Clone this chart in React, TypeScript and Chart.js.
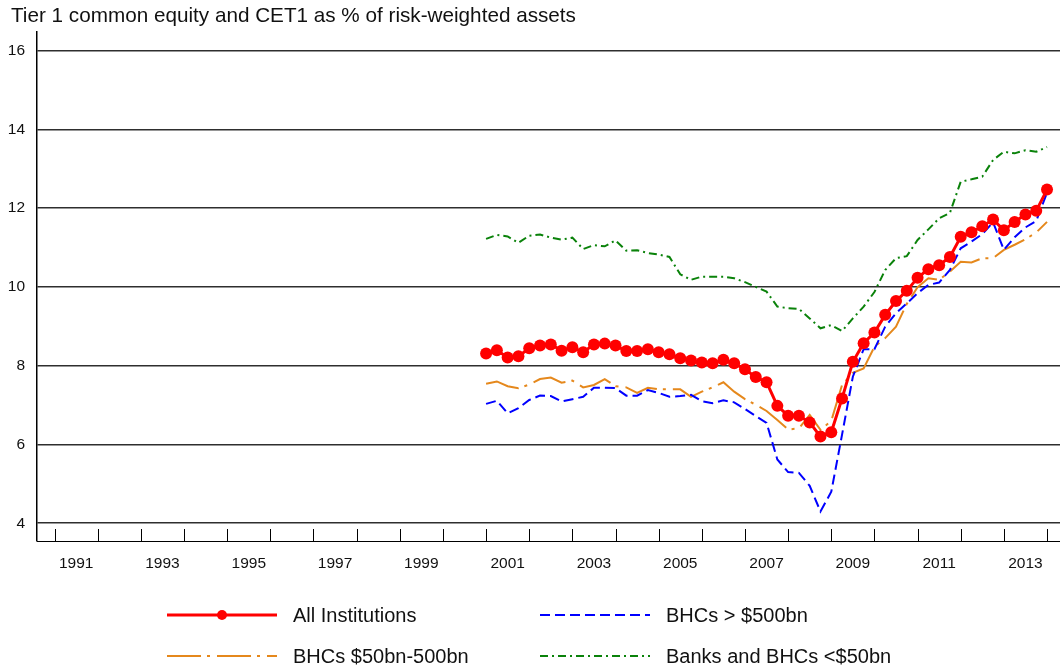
import React, { useEffect, useRef } from "react";
import { Chart, registerables } from "chart.js";

Chart.register(...registerables);

const TITLE = "Tier 1 common equity and CET1 as % of risk-weighted assets";
const FONT = '"Liberation Sans", Arial, Helvetica, sans-serif';

// Quarterly observations, 2001 Q1 .. 2014 Q1
const quarters: string[] = [];
for (let y = 2001; y <= 2014; y++) {
  for (let q = 1; q <= 4; q++) {
    if (y === 2014 && q > 1) break;
    quarters.push(`${y} Q${q}`);
  }
}
const quarterToYear = (s: string) => {
  const [y, q] = s.split(" Q");
  return Number(y) + (Number(q) - 1) / 4;
};

const seriesNames = [
  "All Institutions",
  "BHCs > $500bn",
  "BHCs $50bn-500bn",
  "Banks and BHCs <$50bn",
];

const allInstitutions = [
  8.31, 8.39, 8.21, 8.24, 8.44, 8.51, 8.54, 8.38, 8.47, 8.34,
  8.54, 8.56, 8.51, 8.37, 8.37, 8.42, 8.34, 8.29, 8.19, 8.13,
  8.08, 8.06, 8.15, 8.06, 7.91, 7.71, 7.58, 6.98, 6.73, 6.73,
  6.56, 6.2, 6.31, 7.17, 8.1, 8.57, 8.84, 9.29, 9.64, 9.9,
  10.23, 10.45, 10.55, 10.76, 11.27, 11.39, 11.54, 11.71, 11.44, 11.65,
  11.84, 11.93, 12.47,
];

const bhcsOver500 = [
  7.03, 7.11, 6.79, 6.92, 7.13, 7.24, 7.23, 7.09, 7.15, 7.21,
  7.44, 7.44, 7.43, 7.24, 7.24, 7.38, 7.31, 7.21, 7.23, 7.26,
  7.1, 7.05, 7.12, 7.07, 6.9, 6.72, 6.55, 5.62, 5.3, 5.28,
  4.95, 4.3, 4.8, 6.25, 7.72, 8.42, 8.42, 8.99, 9.33, 9.58,
  9.84, 10.05, 10.11, 10.43, 10.98, 11.15, 11.34, 11.64, 10.94, 11.26,
  11.51, 11.67, 12.39,
];

const bhcs50to500 = [
  7.54, 7.6, 7.48, 7.43, 7.52, 7.66, 7.7, 7.57, 7.62, 7.45,
  7.51, 7.66, 7.48, 7.45, 7.31, 7.44, 7.4, 7.4, 7.4, 7.21,
  7.34, 7.45, 7.58, 7.34, 7.15, 7.01, 6.85, 6.62, 6.38, 6.41,
  6.75, 6.37, 6.6, 7.51, 7.82, 7.93, 8.48, 8.7, 8.99, 9.57,
  9.99, 10.22, 10.18, 10.39, 10.64, 10.62, 10.73, 10.73, 10.94, 11.07,
  11.21, 11.38, 11.65,
];

const banksUnder50 = [
  11.22, 11.32, 11.28, 11.12, 11.3, 11.33, 11.25, 11.2, 11.25, 10.96,
  11.06, 11.03, 11.18, 10.92, 10.93, 10.86, 10.82, 10.76, 10.32, 10.18,
  10.26, 10.26, 10.26, 10.22, 10.12, 10.0, 9.88, 9.5, 9.46, 9.44,
  9.2, 8.95, 9.03, 8.88, 9.2, 9.5, 9.87, 10.43, 10.73, 10.78,
  11.19, 11.46, 11.74, 11.88, 12.67, 12.73, 12.8, 13.22, 13.43, 13.39,
  13.47, 13.43, 13.55,
];

const labelledYears = [1991, 1993, 1995, 1997, 1999, 2001, 2003, 2005, 2007, 2009, 2011, 2013];
const yearTickMarks = [
  1991, 1992, 1993, 1994, 1995, 1996, 1997, 1998, 1999, 2000, 2001, 2002,
  2003, 2004, 2005, 2006, 2007, 2008, 2009, 2010, 2011, 2012, 2013, 2014,
];
const yTicks = [4, 6, 8, 10, 12, 14, 16];

const toPoints = (vals: number[]) =>
  quarters.map((q, i) => ({ x: quarterToYear(q), y: vals[i] }));

const decorPlugin = {
  id: "decor",
  afterDraw(chart: any) {
    const { ctx, chartArea, scales } = chart;
    ctx.save();
    // x tick marks drawn upward from the axis
    ctx.strokeStyle = "#000";
    ctx.lineWidth = 1;
    ctx.setLineDash([]);
    for (const yr of yearTickMarks) {
      const px = Math.round(scales.x.getPixelForValue(yr)) + 0.5;
      if (px < chartArea.left || px > chartArea.right) continue;
      ctx.beginPath();
      ctx.moveTo(px, chartArea.bottom);
      ctx.lineTo(px, chartArea.bottom - 12);
      ctx.stroke();
    }
    // title
    ctx.fillStyle = "#111";
    ctx.font = `20.7px ${FONT}`;
    ctx.textAlign = "left";
    ctx.textBaseline = "alphabetic";
    ctx.fillText(TITLE, 11, 22);
    // legend
    const cols = [167, 540];
    const rows = [615, 656];
    chart.data.datasets.forEach((ds: any, i: number) => {
      const lx = cols[i % 2];
      const ly = rows[Math.floor(i / 2)];
      ctx.strokeStyle = ds.borderColor;
      ctx.lineWidth = ds.borderWidth;
      ctx.lineCap = "butt";
      ctx.setLineDash(ds.borderDash || []);
      ctx.beginPath();
      ctx.moveTo(lx, ly);
      ctx.lineTo(lx + 110, ly);
      ctx.stroke();
      ctx.setLineDash([]);
      if (ds.pointRadius > 0) {
        ctx.fillStyle = ds.pointBackgroundColor;
        ctx.beginPath();
        ctx.arc(lx + 55, ly, 5, 0, Math.PI * 2);
        ctx.fill();
      }
      ctx.fillStyle = "#111";
      ctx.font = `20px ${FONT}`;
      ctx.textBaseline = "middle";
      ctx.fillText(ds.label, lx + 126, ly + 1);
    });
    ctx.restore();
  },
};

export default function App() {
  const ref = useRef<HTMLCanvasElement>(null);
  useEffect(() => {
    document.body.style.margin = "0";
    const chart = new Chart(ref.current!, {
      type: "line",
      data: {
        datasets: [
          {
            label: seriesNames[0],
            data: toPoints(allInstitutions),
            borderColor: "#FF0000",
            backgroundColor: "#FF0000",
            borderWidth: 3,
            pointRadius: 6,
            pointBackgroundColor: "#FF0000",
            pointBorderWidth: 0,
            tension: 0,
          },
          {
            label: seriesNames[1],
            data: toPoints(bhcsOver500),
            borderColor: "#0000FF",
            borderWidth: 2,
            borderDash: [10, 5],
            pointRadius: 0,
            tension: 0,
          },
          {
            label: seriesNames[2],
            data: toPoints(bhcs50to500),
            borderColor: "#E5881C",
            borderWidth: 2,
            borderDash: [34, 6, 3, 7],
            pointRadius: 0,
            tension: 0,
          },
          {
            label: seriesNames[3],
            data: toPoints(banksUnder50),
            borderColor: "#0A820A",
            borderWidth: 2,
            borderDash: [8, 4, 2, 4],
            pointRadius: 0,
            tension: 0,
          },
        ] as any,
      },
      options: {
        responsive: false,
        animation: false,
        devicePixelRatio: 1,
        layout: { autoPadding: false, padding: { top: 32, left: 0, right: 0, bottom: 0 } },
        plugins: {
          legend: { display: false },
          tooltip: { enabled: false },
          title: { display: false },
        },
        scales: {
          x: {
            type: "linear",
            min: 1990.592,
            max: 2014.301,
            grid: { display: false, drawTicks: false },
            border: { display: true, color: "#000", width: 1 },
            afterBuildTicks: (s: any) => {
              s.ticks = labelledYears.map((y) => ({ value: y + 0.5 }));
            },
            afterFit: (s: any) => {
              s.height = 129;
            },
            ticks: {
              autoSkip: false,
              maxRotation: 0,
              color: "#111",
              padding: 13,
              font: { family: FONT, size: 15.5 },
              callback: (v: any) => String(Math.floor(Number(v))),
            },
          },
          y: {
            type: "linear",
            min: 3.55,
            max: 16.47,
            grid: { color: "#2e2e2e", lineWidth: 1.6, drawTicks: false },
            border: { display: true, color: "#000", width: 1.5 },
            afterBuildTicks: (s: any) => {
              s.ticks = yTicks.map((v) => ({ value: v }));
            },
            afterFit: (s: any) => {
              s.width = 37;
            },
            ticks: {
              color: "#111",
              padding: 12,
              font: { family: FONT, size: 15.5 },
              callback: (v: any) => String(v),
            },
          },
        },
      } as any,
      plugins: [decorPlugin],
    });
    return () => chart.destroy();
  }, []);
  return (
    <div style={{ width: 1060, height: 670, position: "relative" }}>
      <canvas ref={ref} width={1060} height={670} style={{ display: "block" }} />
    </div>
  );
}
